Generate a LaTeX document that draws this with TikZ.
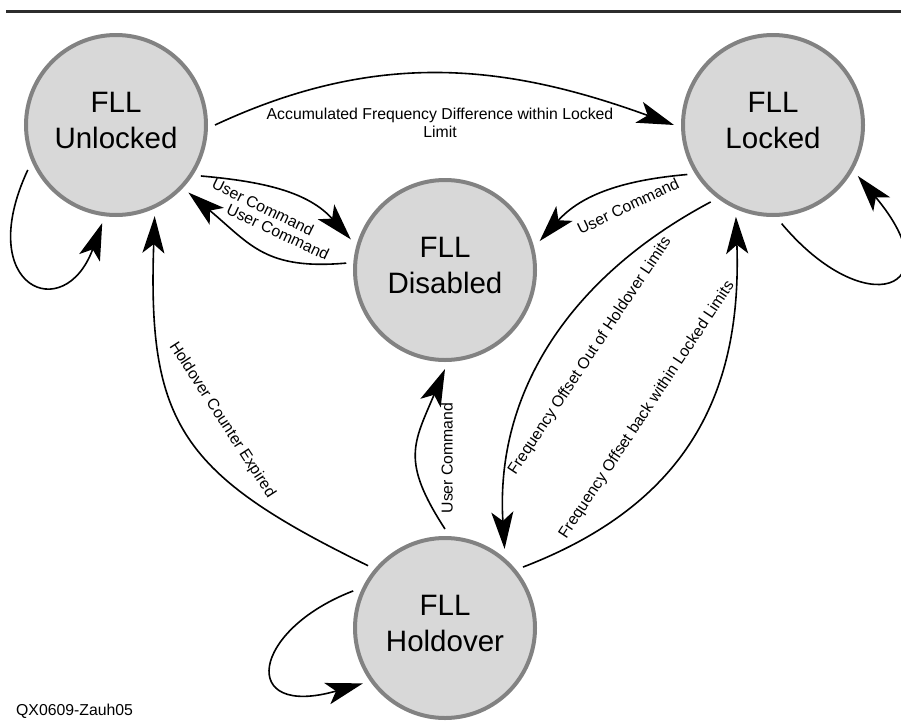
\documentclass[tikz,border=0pt]{standalone}
\usepackage{fontspec}
\setmainfont{Liberation Sans}
\usetikzlibrary{arrows.meta}
\definecolor{stfill}{RGB}{216,216,216}
\definecolor{stborder}{RGB}{130,130,130}
\definecolor{rulecol}{RGB}{45,45,45}
\begin{document}
\begin{tikzpicture}[x=1pt,y=-1pt,
  state/.style={circle, draw=stborder, line width=4pt, fill=stfill,
    minimum size=180pt, outer sep=9pt, inner sep=0pt, align=center,
    font=\fontsize{29.5}{36}\selectfont},
  statetext/.style={inner sep=0pt, align=center, font=\fontsize{29.5}{36}\selectfont},
  lbl/.style={font=\fontsize{15.8}{18}\selectfont, inner sep=0pt, align=center},
  conn/.style={line width=1.6pt, -{Stealth[length=37pt,width=22pt,inset=9pt]}}]
\useasboundingbox (0,0) rectangle (901,723);
\draw[line width=3pt, rulecol] (6,11) -- (901,11);

\node[state] (U) at (116,125) {};
\node[state] (L) at (773,125) {};
\node[state] (D) at (445,270) {};
\node[state] (H) at (445,628) {};
\node[statetext] (Ut) at (116,120.5) {FLL\\Unlocked};
\node[statetext] (Lt) at (773,120.5) {FLL\\Locked};
\node[statetext] (Dt) at (445,265.5) {FLL\\Disabled};
\node[statetext] (Ht) at (445,623.5) {FLL\\Holdover};

\draw[conn] (U.0) to[out=25,in=160] (L.180);
\draw[conn] (U.-31) to[out=-5,in=132] (D.162);
\draw[conn] (D.176) to[out=185,in=-40,looseness=1.2] (U.-43);
\draw[conn] (L.210) to[out=185,in=48] (D.17);
\draw[conn] (H.141) to[out=154,in=-92,looseness=1.3] (U.-67);
\draw[conn] (H.90) to[out=123,in=247,looseness=1.3] (D.-90);
\draw[conn] (L.231) to[out=208,in=93.5] (H.53);
\draw[conn] (H.38) to[out=21,in=-88,looseness=1.1] (L.248);

\draw[conn] (U.-153) to[out=245,in=250,out distance=130pt,in distance=110pt] (U.-98);
\draw[conn] (L.-85) to[out=-50,in=-50,out distance=130pt,in distance=150pt] (L.-31);
\draw[conn] (H.158) to[out=201,in=196,out distance=110pt,in distance=130pt] (H.214);

\node[lbl] (l1) at (440,122.4) {Accumulated Frequency Difference within Locked\\Limit};
\node[lbl, rotate=-26] (l2) at (263,207) {User Command};
\node[lbl, rotate=-25] (l3) at (278,232) {User Command};
\node[lbl, rotate=25.5] (l4) at (628,206) {User Command};
\node[lbl, rotate=-57] (l7) at (222,420) {Holdover Counter Expired};
\node[lbl, rotate=90] (l8) at (447,458) {User Command};
\node[lbl, rotate=56.4] (l9) at (590,356) {Frequency Offset Out of Holdover Limits};
\node[lbl, rotate=56.5] (l10) at (647,410) {Frequency Offset back within Locked Limits};

\node[lbl, anchor=base west] (foot) at (16,715) {QX0609-Zauh05};
\end{tikzpicture}
\end{document}
